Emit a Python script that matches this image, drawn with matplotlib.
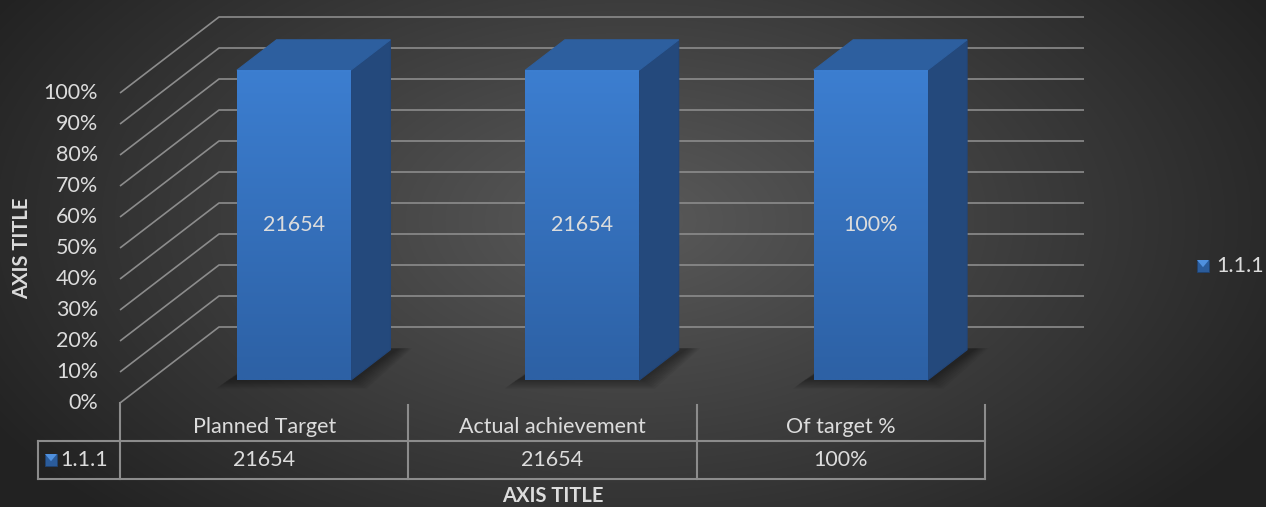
import matplotlib
matplotlib.use("Agg")
import matplotlib.pyplot as plt
from matplotlib.patches import Polygon, Rectangle
import matplotlib.transforms as mtransforms
import numpy as np

# data
categories = ["Planned Target", "Actual achievement", "Of target %"]
values = [21654, 21654, 1.0]
value_labels = ["21654", "21654", "100%"]
series_name = "1.1.1"
y_ticks = [0, 0.1, 0.2, 0.3, 0.4, 0.5, 0.6, 0.7, 0.8, 0.9, 1.0]
y_ticklabels = ["0%", "10%", "20%", "30%", "40%", "50%", "60%", "70%", "80%", "90%", "100%"]
y_max = 1.0

W, H, DPI = 1266, 507, 100
TXT = "#dcdcdc"
GRID = "#8c8c8c"
FS = 15.5
plt.rcParams["font.family"] = ["Lato", "DejaVu Sans"]

fig = plt.figure(figsize=(W / DPI, H / DPI), dpi=DPI)

# fondo con degradado radial
bg = fig.add_axes([0, 0, 1, 1])
yy, xx = np.mgrid[0:H, 0:W]
t = np.clip(np.sqrt(((xx - 630) / 740) ** 2 + ((yy - 220) / 420) ** 2), 0, 1)
c0 = np.array([90, 90, 90]) / 255
c1 = np.array([34, 34, 34]) / 255
bg.imshow(c0 * (1 - t[..., None]) + c1 * t[..., None], aspect="auto", extent=[0, W, H, 0])
bg.axis("off")

# ejes principales (plano frontal)
ax = fig.add_axes([120 / W, (H - 403) / H, 865 / W, 310 / H])
ax.set_xlim(0, len(categories))
ax.set_ylim(0, y_max)
ax.axis("off")

p0 = ax.transData.transform((0, 0))
p1 = ax.transData.transform((1, 1))
ppx, ppy = p1[0] - p0[0], p1[1] - p0[1]  # pixeles por unidad
dxd, dyd = 99 / ppx, 76 / ppy  # profundidad total en unidades de datos


def P(x, v, f):
    return (x + f * dxd, v + f * dyd)


# lineas de cuadricula (pared izquierda + pared trasera)
n = len(categories)
for v in y_ticks:
    ax.plot([0, dxd, n + dxd], [v, v + dyd, v + dyd], color=GRID, lw=1.2,
            clip_on=False, zorder=1, solid_capstyle="butt")

# barras 3D
w = 0.395
f0, f1 = 0.30, 0.70
grad = np.linspace(0, 1, 64)[:, None]
top_c = np.array([60, 126, 208]) / 255
bot_c = np.array([45, 97, 165]) / 255
front_img = (top_c * (1 - grad[..., None]) + bot_c * grad[..., None]) * np.ones((1, 8, 1))

for i, val in enumerate(values):
    h = min(val, y_max)
    x0, x1 = i + 0.5 - w / 2, i + 0.5 + w / 2
    # sombra difusa
    for k in range(8):
        e = (8 - k) * 0.006
        ey = (8 - k) * 0.004
        sh = [P(x0 - e - 0.03, -ey, f0 + 0.02), P(x1 + e, -ey, f0 + 0.02),
              P(x1 + e + 0.02, 0, f1 + 0.02), P(x0 - e + 0.02, 0, f1 + 0.02)]
        ax.add_patch(Polygon(sh, closed=True, fc="black", ec="none", alpha=0.05,
                             clip_on=False, zorder=2))
    side = [P(x1, 0, f0), P(x1, 0, f1), P(x1, h, f1), P(x1, h, f0)]
    top = [P(x0, h, f0), P(x1, h, f0), P(x1, h, f1), P(x0, h, f1)]
    ax.add_patch(Polygon(side, closed=True, fc="#24497c", ec="#22467a", lw=0.8,
                         clip_on=False, zorder=3))
    ax.add_patch(Polygon(top, closed=True, fc="#2d5f9f", ec="#2d5f9f", lw=0.8,
                         clip_on=False, zorder=3))
    fx0, fy0 = P(x0, 0, f0)
    fx1, fy1 = P(x1, h, f0)
    ax.imshow(front_img, extent=[fx0, fx1, fy0, fy1], aspect="auto",
              zorder=4, clip_on=False, interpolation="bilinear")
    cx, cy = P(i + 0.5, h / 2, f0)
    ax.text(cx, cy, value_labels[i], ha="center", va="center", color=TXT,
            fontsize=FS, zorder=5)

ax.set_xlim(0, n)
ax.set_ylim(0, y_max)

# etiquetas eje Y
off = mtransforms.offset_copy(ax.transData, fig=fig, x=-22, y=0, units="dots")
for v, lab in zip(y_ticks, y_ticklabels):
    ax.text(0, v, lab, transform=off, ha="right", va="center", color=TXT, fontsize=FS)

fig.text(22 / W, 1 - 248 / H, "AXIS TITLE", rotation=90, ha="center", va="center",
         color=TXT, fontsize=14.5, fontweight="bold")

# tabla de datos
r1, r2 = -38 / ppy, -76 / ppy
xl = -82 / ppx
lk = dict(color=GRID, lw=1.5, clip_on=False, zorder=1, solid_capstyle="projecting")
ax.plot([xl, n], [r1, r1], **lk)
ax.plot([xl, n], [r2, r2], **lk)
ax.plot([xl, xl], [r1, r2], **lk)
for j in range(n + 1):
    ax.plot([j, j], [0 if j == 0 else -2 / ppy, r2], **lk)
for i, cat in enumerate(categories):
    ax.text(i + 0.5, -24 / ppy, cat, ha="center", va="center", color=TXT, fontsize=FS)
    ax.text(i + 0.5, -57 / ppy, value_labels[i], ha="center", va="center", color=TXT, fontsize=FS)

fig.text(553 / W, 1 - 496 / H, "AXIS TITLE", ha="center", va="center",
         color=TXT, fontsize=14.5, fontweight="bold")


def legend_key(x, y, s):
    # x, y: esquina superior izquierda en pixeles de imagen
    fig.add_artist(Rectangle((x / W, 1 - (y + s) / H), s / W, s / H,
                             transform=fig.transFigure, fc="#2b5c9b", ec="#1f4270", lw=0.6))
    tri = [(x / W, 1 - y / H), ((x + s) / W, 1 - y / H), ((x + s / 2) / W, 1 - (y + s * 0.6) / H)]
    fig.add_artist(Polygon(tri, closed=True, transform=fig.transFigure, fc="#4f90de", ec="none"))


legend_key(45, 454, 12)
fig.text(60 / W, 1 - 460 / H, series_name, ha="left", va="center", color=TXT, fontsize=FS)
legend_key(1197, 260, 12)
fig.text(1216 / W, 1 - 266 / H, series_name, ha="left", va="center", color=TXT, fontsize=FS)

fig.savefig("out.png", dpi=DPI)
